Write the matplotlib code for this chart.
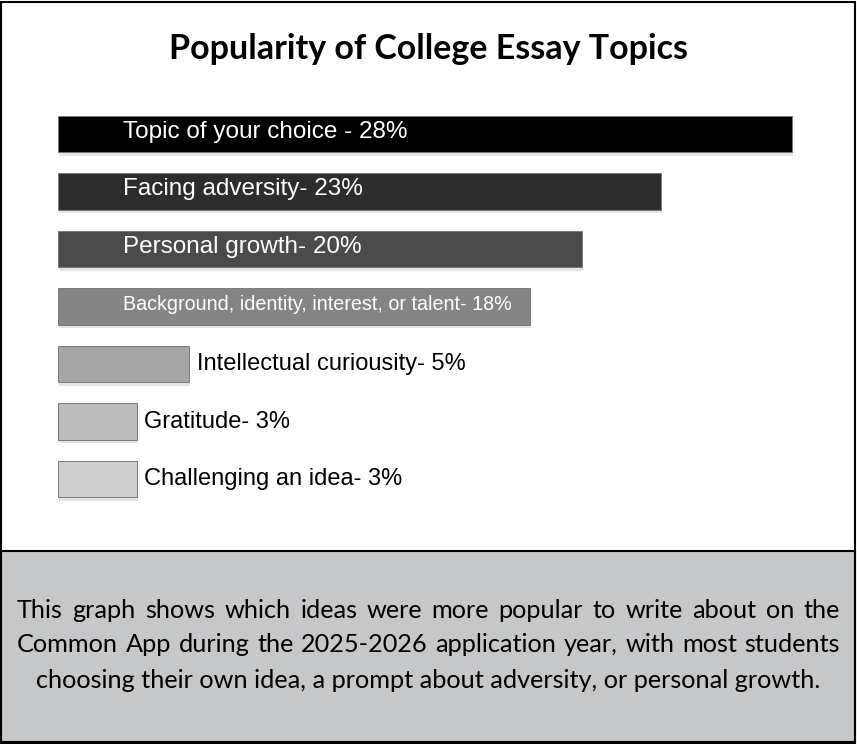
import matplotlib
matplotlib.use("Agg")
import matplotlib.pyplot as plt
from matplotlib import font_manager
from matplotlib.patches import Rectangle

# data
topics = ["Topic of your choice - 28%", "Facing adversity- 23%", "Personal growth- 20%",
          "Background, identity, interest, or talent- 18%", "Intellectual curiousity- 5%",
          "Gratitude- 3%", "Challenging an idea- 3%"]
values = [28, 23, 20, 18, 5, 3, 3]
colors = ["#000000", "#2d2d2d", "#4b4b4b", "#858585", "#a5a5a5", "#bcbcbc", "#cfcfcf"]
title = "Popularity of College Essay Topics"
caption = ["This graph shows which ideas were more popular to write about on the",
           "Common App during the 2025-2026 application year, with most students",
           "choosing their own idea, a prompt about adversity, or personal growth."]

W, H = 857, 744


def pick(names):
    for n in names:
        try:
            font_manager.findfont(n, fallback_to_default=False)
            return n
        except Exception:
            pass
    return "DejaVu Sans"


arial = pick(["Liberation Sans", "Arial"])
geo = pick(["Lato", "Open Sans"])

fig = plt.figure(figsize=(W / 100, H / 100), dpi=100)
fig.patch.set_facecolor("white")

# frames
fig.add_artist(Rectangle((1 / W, 2 / H), 854 / W, 191 / H, transform=fig.transFigure,
                         facecolor="#c6c7c9", edgecolor="black", lw=1.5))
fig.add_artist(Rectangle((1 / W, 1 / H), 854 / W, 741 / H, transform=fig.transFigure,
                         facecolor="none", edgecolor="black", lw=1.5))

fig.text(0.5, 1 - 49 / H, title, ha="center", va="center", fontsize=24.5,
         fontweight="bold", family=geo)

# bars
px = 26.2
ax = fig.add_axes([58 / W, 1 - 507.75 / H, px * 30 / W, 402.5 / H])
ax.set_xlim(0, 30)
ax.set_ylim(len(values) - 0.5, -0.5)
ax.axis("off")
ys = list(range(len(values)))
# faint shadow
ax.barh([y + 0.06 for y in ys], values, height=0.63, left=0.05, color="#e4e4e4",
        zorder=1)
ax.barh(ys, values, height=0.63, color=colors, edgecolor="#7a7a7a", lw=0.7, zorder=2)

for y, v, t in zip(ys, values, topics):
    if v >= 10:
        fs = 14.2 if len(t) > 30 else 17.5
        ax.text(2.48, y - 0.04, t, color="white", va="center", ha="left", fontsize=fs,
                family=arial, zorder=3)
    else:
        ax.text(v + 0.3, y, t, color="black", va="center", ha="left", fontsize=17,
                family=arial, zorder=3)

# caption, first lines justified
fig.canvas.draw()
r = fig.canvas.get_renderer()
line_y = [610, 645, 680]
x0, x1 = 17, 840
cfs = 18.2
for i, line in enumerate(caption):
    yy = 1 - line_y[i] / H
    if i == len(caption) - 1:
        fig.text(0.5, yy, line, ha="center", va="center", fontsize=cfs, family=geo)
        continue
    words = line.split(" ")
    arts = [fig.text(0, yy, w, ha="left", va="center", fontsize=cfs, family=geo) for w in words]
    widths = [a.get_window_extent(r).width for a in arts]
    gap = (x1 - x0 - sum(widths)) / (len(words) - 1)
    x = x0
    for a, w in zip(arts, widths):
        a.set_x(x / W)
        x += w + gap

fig.savefig("out.png", dpi=100)
